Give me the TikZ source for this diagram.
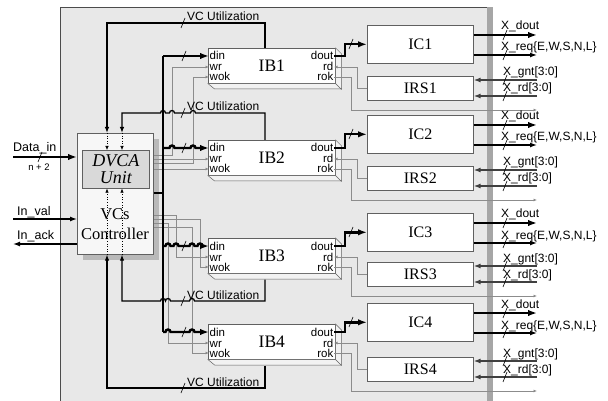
\documentclass[tikz,border=0pt]{standalone}
\usepackage{fontspec}
\setmainfont{Liberation Serif}
\setsansfont{Liberation Sans}
\usetikzlibrary{arrows.meta,calc}

\tikzset{
  box/.style={draw=gray!75!black, fill=white, line width=0.6pt, inner sep=0pt, anchor=north west},
  icbox/.style={box, minimum width=106pt, minimum height=38pt, font=\fontsize{16}{16}\selectfont},
  irsbox/.style={box, minimum width=106pt, minimum height=24pt, font=\fontsize{16}{16}\selectfont},
  ibbox/.style={box, minimum width=127pt, minimum height=35pt, font=\fontsize{17.5}{17.5}\selectfont},
  bevel/.style={fill=gray!10, draw=gray!75!black, line width=0.5pt},
  port/.style={font=\sffamily\fontsize{11.5}{11.5}\selectfont, inner sep=0.5pt, text height=8pt, text depth=0pt},
  lbl/.style={font=\sffamily\fontsize{12}{12}\selectfont, inner sep=0pt, anchor=base west},
  bus/.style={line width=2.4pt},
  busarrow/.style={bus, -{Latex[length=9pt,width=6.5pt]}},
  wire/.style={line width=1.3pt, -{Latex[length=7pt,width=5pt]}},
  util/.style={line width=1.3pt, -{Latex[length=6pt,width=4.5pt]}},
  inwire/.style={line width=1.3pt, draw=black!75, -{Latex[length=7pt,width=5pt]}},
  sig/.style={draw=gray!90, line width=0.7pt, -{Latex[length=3.5pt,width=3pt]}},
  slashmk/.style={line width=0.6pt},
}

\begin{document}
\begin{tikzpicture}[x=1pt,y=-1pt]
\useasboundingbox (0,0) rectangle (608,401);

% router frame
\fill[gray!18] (60,7) rectangle (487,401);
\draw[gray!60!black, line width=0.6pt] (60,401) -- (60,7) -- (487,7);
\fill[gray!70] (487,7) rectangle (493,401);

% VCs controller with the DVCA unit
\fill[gray!55] (83,139) rectangle (159,260);
\node[box, fill=gray!6, minimum width=76pt, minimum height=121pt] (ctrl) at (77,133) {};
\node[box, fill=gray!30, minimum width=67pt, minimum height=38pt, align=center,
      font=\itshape\fontsize{18}{17}\selectfont] (dvca) at (82,150) {DVCA\\Unit};
\node[align=center, inner sep=0pt, font=\fontsize{16.5}{20}\selectfont] (ctrltxt) at (115,224) {VCs\\Controller};

\coordinate (chA) at (107,0);
\coordinate (chB) at (122,0);
\coordinate (utx) at (265,0);
\coordinate (bj) at (163,193);

\foreach \c in {chA,chB} {
  \draw[dotted, line width=0.6pt, -{Latex[length=4pt,width=3.5pt]}] (ctrl.north -| \c) -- (dvca.north -| \c);
  \draw[dotted, line width=0.6pt, -{Latex[length=4pt,width=3.5pt]}] (ctrl.south -| \c) -- (dvca.south -| \c);
}

% one row per input buffer / crossbar port
\foreach \i/\yb/\yc/\yr in {1/48/25/76, 2/140/115/166, 3/238/213/262, 4/324/303/357} {
  \node[ibbox] (ib\i) at (208,\yb) {IB\i};
  \filldraw[bevel] (ib\i.north east) -- ++(6,6) -- ++(0,35) -- ++(-127,0) -- (ib\i.south west) -- (ib\i.south east) -- cycle;
  \draw[bevel] (ib\i.south east) -- ++(6,6);
  \node[port, anchor=base west] (din\i) at (209,\yb+12) {din};
  \node[port, anchor=base west] (wr\i) at (209,\yb+23) {wr};
  \node[port, anchor=base west] (wok\i) at (209,\yb+33) {wok};
  \node[port, anchor=base east] (dout\i) at (334,\yb+12) {dout};
  \node[port, anchor=base east] (rd\i) at (334,\yb+23) {rd};
  \node[port, anchor=base east] (rok\i) at (334,\yb+33) {rok};
  \node[icbox] (ic\i) at (367,\yc) {IC\i};
  \node[irsbox] (irs\i) at (367,\yr) {IRS\i};
  \draw[busarrow] (dout\i.east) -- ++(11,0) |- (ic\i.west);
  \draw[slashmk] (349,\yc+24) -- (353,\yc+14);
  \draw[sig] (irs\i.west) -- ++(-10,0) |- (rd\i.east);
  \coordinate (rokout\i) at (537,\yr+34);
  \draw[sig] (rok\i.east) -- ++(17,0) |- (rokout\i);
  % outputs
  \coordinate (xdout\i) at (537,\yc+10);
  \coordinate (xreq\i) at (537,\yc+30);
  \coordinate (xgnt\i) at (537,\yr+4);
  \coordinate (xrd\i) at (537,\yr+20);
  \draw[busarrow] (ic\i.east |- xdout\i) -- (xdout\i);
  \draw[wire] (ic\i.east |- xreq\i) -- (xreq\i);
  \draw[inwire] (xgnt\i) -- (irs\i.east |- xgnt\i);
  \draw[inwire] (xrd\i) -- (irs\i.east |- xrd\i);
  \node[lbl] (ldout\i) at (501,\yc+5) {X\_dout};
  \node[lbl] (lreq\i) at (501,\yc+26) {X\_req\{E,W,S,N,L\}};
  \node[lbl] (lgnt\i) at (503,\yr) {X\_gnt[3:0]};
  \node[lbl] (lrd\i) at (503,\yr+16) {X\_rd[3:0]};
  \foreach \s in {xdout\i,xreq\i,xgnt\i,xrd\i}
    \draw[slashmk] ($(\s)+(-34,5)$) -- ($(\s)+(-30,-5)$);
}

% write / write-ok lines
\coordinate (wA) at (172,0);
\coordinate (wB) at (193,0);
\coordinate (wC) at (176,0);
\coordinate (wD) at (200,0);
\coordinate (wE) at (168,0);
\coordinate (wF) at (192,0);
\draw[sig] ($(ctrl.north east)+(0,22)$) -| (wA |- wr1) -- (wr1.west);
\draw[sig] ($(ctrl.north east)+(0,30)$) -| (wB |- wok1) -- (wok1.west);
\draw[sig] (ctrl.east |- wr2) -- (wr2.west);
\draw[sig] (ctrl.east |- wok2) -- (wok2.west);
\draw[sig] ($(ctrl.north east)+(0,82)$) -| (wC |- wr3) -- (wr3.west);
\draw[sig] ($(ctrl.north east)+(0,86)$) -| (wD |- wok3) -- (wok3.west);
\draw[sig] ($(ctrl.north east)+(0,90)$) -| (wE |- wr4) -- (wr4.west);
\draw[sig] ($(ctrl.north east)+(0,94)$) -| (wF |- wok4) -- (wok4.west);

% data bus
\draw[bus] (ctrl.east |- bj) -- (bj);
\draw[bus] (bj |- din1) -- (bj |- din4);
\draw[busarrow] (bj |- din1) -- (din1.west);
\draw[busarrow] (bj |- din2) -- (169.5,148) arc[start angle=180,end angle=0,radius=2.5pt]
  -- (190.5,148) arc[start angle=180,end angle=0,radius=2.5pt] -- (din2.west);
\draw[busarrow] (bj |- din3) -- (165.5,246) arc[start angle=180,end angle=0,radius=2.5pt]
  -- (173.5,246) arc[start angle=180,end angle=0,radius=2.5pt]
  -- (189.5,246) arc[start angle=180,end angle=0,radius=2.5pt]
  -- (197.5,246) arc[start angle=180,end angle=0,radius=2.5pt] -- (din3.west);
\draw[busarrow] (bj |- din4) -- (165.5,332) arc[start angle=180,end angle=0,radius=2.5pt]
  -- (189.5,332) arc[start angle=180,end angle=0,radius=2.5pt] -- (din4.west);
\foreach \i in {1,...,4}
  \draw[slashmk] ($(bj |- din\i)+(19,5)$) -- ($(bj |- din\i)+(23,-5)$);

% VC utilization feedback
\coordinate (vc1) at (107,23);
\coordinate (vc2) at (122,113);
\coordinate (vc3) at (122,301);
\coordinate (vc4) at (107,388);
\draw[util] (ib1.north -| utx) |- (vc1) -- (ctrl.north -| vc1);
\draw[util] (ib2.north -| utx) -- (utx |- vc2) -- (195.5,113) arc[start angle=0,end angle=180,radius=2.5pt]
  -- (174.5,113) arc[start angle=0,end angle=180,radius=2.5pt]
  -- (165.5,113) arc[start angle=0,end angle=180,radius=2.5pt] -- (vc2) -- (ctrl.north -| vc2);
\draw[util] ($(ib3.south -| utx)+(0,6)$) -- (utx |- vc3) -- (194.5,301) arc[start angle=0,end angle=180,radius=2.5pt]
  -- (170.5,301) arc[start angle=0,end angle=180,radius=2.5pt]
  -- (165.5,301) arc[start angle=0,end angle=180,radius=2.5pt] -- (vc3) -- (ctrl.south -| vc3);
\draw[util] ($(ib4.south -| utx)+(0,6)$) |- (vc4) -- (ctrl.south -| vc4);
\foreach \v in {1,...,4} {
  \node[lbl] (lvc\v) at ($(vc\v -| 187,0)+(0,-2)$) {VC Utilization};
  \draw[slashmk] ($(vc\v -| 183,0)+(-2,5)$) -- ($(vc\v -| 183,0)+(2,-5)$);
}

% router inputs
\coordinate (datasrc) at (13,157);
\draw[busarrow] (datasrc) -- (ctrl.west |- datasrc);
\node[lbl, font=\sffamily\fontsize{12.5}{12.5}\selectfont] (ldata) at (13,152) {Data\_in};
\node[inner sep=0pt, font=\sffamily\fontsize{9.5}{9.5}\selectfont] (lwidth) at (39,167) {n + 2};
\draw[slashmk] (38,162) -- (42,152);
\coordinate (valsrc) at (13,219);
\draw[wire] (valsrc) -- (ctrl.west |- valsrc);
\node[lbl, font=\sffamily\fontsize{12.5}{12.5}\selectfont] (lval) at (17,215) {In\_val};
\coordinate (ackdst) at (13,244);
\draw[wire] (ctrl.west |- ackdst) -- (ackdst);
\node[lbl, font=\sffamily\fontsize{12.5}{12.5}\selectfont] (lack) at (17,239) {In\_ack};
\end{tikzpicture}
\end{document}
